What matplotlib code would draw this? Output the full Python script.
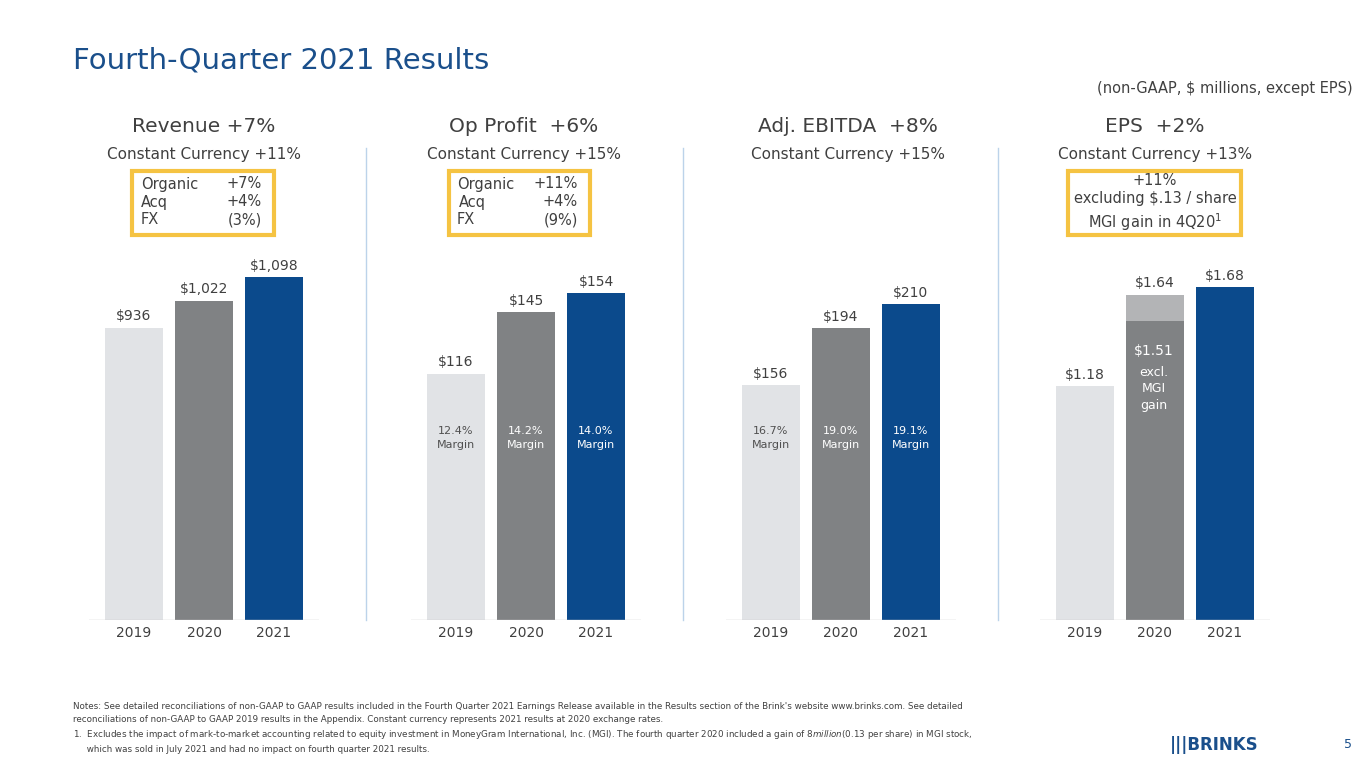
import matplotlib.pyplot as plt
from matplotlib.patches import Rectangle

W, H = 1365, 768
years = ["2019", "2020", "2021"]
revenue = [936, 1022, 1098]
op_profit = [116, 145, 154]
ebitda = [156, 194, 210]
eps = [1.18, 1.51, 1.68]
eps_gain = 0.13
rev_labels = ["$936", "$1,022", "$1,098"]
op_labels = ["$116", "$145", "$154"]
ebitda_labels = ["$156", "$194", "$210"]
eps_labels = ["$1.18", "$1.64", "$1.68"]
op_margins = ["12.4%", "14.2%", "14.0%"]
ebitda_margins = ["16.7%", "19.0%", "19.1%"]

C_LIGHT, C_GRAY, C_BLUE = "#e1e3e6", "#808284", "#0b4a8c"
C_TXT = "#404040"

fig = plt.figure(figsize=(W / 100, H / 100), dpi=100)


def fx(x):
    return x / W


def fy(y):
    return 1 - y / H


def txt(x, y, s, **kw):
    kw.setdefault("color", C_TXT)
    kw.setdefault("ha", "center")
    kw.setdefault("va", "center")
    fig.text(fx(x), fy(y), s, **kw)


def panel(c0, vals, labels, maxpx, margins=None):
    # axes from baseline y=620 up to y=250
    top, base = 250, 620
    left, right = c0 - 45, c0 + 140 + 45
    ax = fig.add_axes([fx(left), fy(base), fx(right - left), (base - top) / H])
    ymax = max(vals) * (base - top) / maxpx
    ax.set_ylim(0, ymax)
    ax.set_xlim(-45 / 70, 2 + 45 / 70)
    ax.bar(range(3), vals, width=58 / 70, color=[C_LIGHT, C_GRAY, C_BLUE])
    ax.axis("off")
    ax.axhline(0, color="#c8c8c8", lw=1)
    for i, lab in enumerate(labels):
        if lab:
            ax.text(i, vals[i] + ymax * 0.012, lab, ha="center", va="bottom",
                    fontsize=10, color=C_TXT)
        txt(c0 + 70 * i, 633, years[i], fontsize=10)
    if margins:
        for i, m in enumerate(margins):
            col = "#505050" if i == 0 else "white"
            txt(c0 + 70 * i, 438, m + "\nMargin", fontsize=8, color=col,
                linespacing=1.4)
    return ax, ymax


panel(134, revenue, rev_labels, 343)
panel(456, op_profit, op_labels, 327, op_margins)
panel(771, ebitda, ebitda_labels, 316, ebitda_margins)
ax4, ymax4 = panel(1085, eps, [eps_labels[0], "", eps_labels[2]], 333)
ax4.bar(1, eps_gain, bottom=eps[1], width=58 / 70, color="#b3b4b6")
ax4.text(1, eps[1] + eps_gain + ymax4 * 0.012, eps_labels[1], ha="center",
         va="bottom", fontsize=10, color=C_TXT)
txt(1154, 351, "$1.51", fontsize=10, color="white")
txt(1154, 389, "excl.\nMGI\ngain", fontsize=9, color="white", linespacing=1.3)

# title and subtitle
txt(73, 60, "Fourth-Quarter 2021 Results", fontsize=21, color="#1a4f8b",
    ha="left")
txt(1353, 89, "(non-GAAP, $ millions, except EPS)", fontsize=10.5, ha="right")

heads = [(204, "Revenue +7%", "Constant Currency +11%"),
         (524, "Op Profit  +6%", "Constant Currency +15%"),
         (848, "Adj. EBITDA  +8%", "Constant Currency +15%"),
         (1155, "EPS  +2%", "Constant Currency +13%")]
for x, h, s in heads:
    txt(x, 127, h, fontsize=14.5)
    txt(x, 154, s, fontsize=11)

# divider lines
for x in (366, 683, 998):
    fig.add_artist(plt.Line2D([fx(x), fx(x)], [fy(148), fy(620)],
                              color="#bcd3ea", lw=1))

# yellow boxes
for x0, x1 in ((132, 274), (449, 590), (1068, 1241)):
    fig.add_artist(Rectangle((fx(x0), fy(235)), fx(x1 - x0), (235 - 171) / H,
                             fill=False, ec="#f5c342", lw=3))
for i, (a, b) in enumerate((("Organic", "+7%"), ("Acq", "+4%"), ("FX", "(3%)"))):
    txt(141, 184 + 18 * i, a, fontsize=10.5, ha="left")
    txt(262, 184 + 18 * i, b, fontsize=10.5, ha="right")
for i, (a, b) in enumerate((("Organic", "+11%"), ("Acq", "+4%"), ("FX", "(9%)"))):
    txt(457 if i != 1 else 459, 184 + 18 * i, a, fontsize=10.5, ha="left")
    txt(578, 184 + 18 * i, b, fontsize=10.5, ha="right")
txt(1155, 203, "+11%\nexcluding $.13 / share\nMGI gain in 4Q20$^1$",
    fontsize=10.5, linespacing=1.3)

# notes
notes = ("Notes: See detailed reconciliations of non-GAAP to GAAP results included in the Fourth Quarter 2021 Earnings Release available in the Results section of the Brink's website www.brinks.com. See detailed\n"
         "reconciliations of non-GAAP to GAAP 2019 results in the Appendix. Constant currency represents 2021 results at 2020 exchange rates.\n"
         "1.  Excludes the impact of mark-to-market accounting related to equity investment in MoneyGram International, Inc. (MGI). The fourth quarter 2020 included a gain of $8 million ($0.13 per share) in MGI stock,\n"
         "     which was sold in July 2021 and had no impact on fourth quarter 2021 results.")
txt(73, 728, notes, fontsize=6.3, ha="left", linespacing=1.55)
txt(1258, 745, "|||BRINKS", fontsize=12, color="#1a4f8b", weight="bold",
    ha="right")
txt(1352, 745, "5", fontsize=9, color="#1a4f8b", ha="right")

fig.savefig("out.png", dpi=100)
